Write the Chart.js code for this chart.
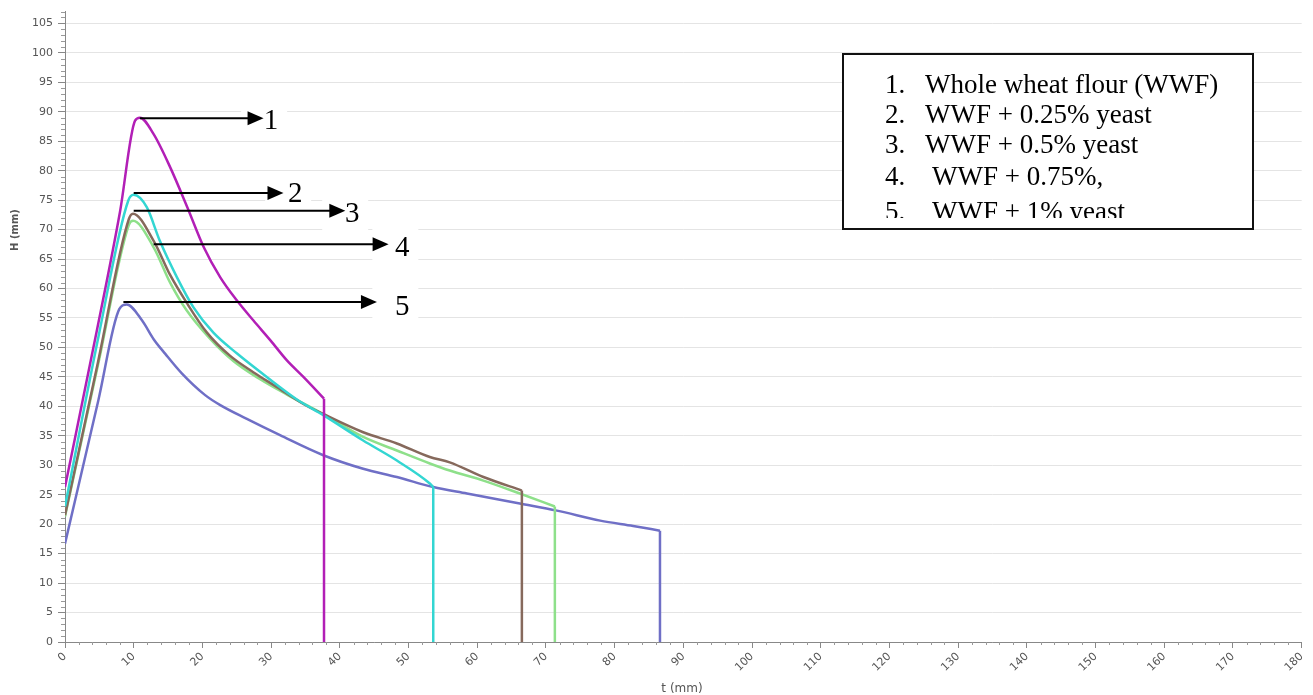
<!DOCTYPE html>
<html>
<head>
<meta charset="utf-8">
<script src="https://cdn.jsdelivr.net/npm/chart.js@4.4.1/dist/chart.umd.min.js"></script>
<style>
  html, body { margin: 0; padding: 0; background: #fff; }
  #wrap { width: 1313px; height: 695px; }
</style>
</head>
<body>
<div id="wrap"><canvas id="myChart" width="1313" height="695"></canvas></div>
<script>
// curve data: t (mm) vs H (mm); last point is the drop to 0
const t1 = [0, 4.4, 8, 10.2, 10.9, 12.9, 15.3, 17.8, 20.2, 22.6, 25, 27.4, 29.9, 32.3, 34.7, 37.7, 37.7];
const h1 = [26.3, 51.5, 73, 88.5, 89, 86.2, 80.6, 73.8, 67, 61.9, 58, 54.6, 51.2, 47.8, 45, 41.3, 0];

const t2 = [0, 4.9, 9.2, 10.0, 11.9, 13.8, 16.3, 18.7, 21.6, 25, 28.9, 33.7, 37.6, 43.4, 48.3, 53.1, 53.6, 53.6];
const h2 = [23, 52, 74.9, 75.9, 73.8, 68.1, 61.9, 56.8, 52.5, 49.0, 45.4, 41.2, 38.5, 34.2, 30.8, 26.9, 26.3, 0];

const t3 = [0, 4.8, 9.3, 9.9, 12.9, 15.3, 17.7, 20.6, 24, 27.4, 30.8, 34.7, 37.6, 43.4, 48.3, 53.1, 56, 60.9, 66.5, 66.5];
const h3 = [21.5, 47.5, 71.8, 72.7, 68.1, 62.3, 57.6, 52.6, 48.6, 45.8, 43.3, 40.4, 38.7, 35.6, 33.7, 31.4, 30.5, 28, 25.7, 0];

const t4 = [0, 4.8, 9.3, 9.9, 12.9, 15.3, 17.7, 21.1, 24.5, 28.4, 32.3, 37.1, 43.4, 48.3, 53.1, 56, 60.9, 66.2, 71.3, 71.3];
const h4 = [21.3, 47, 70.8, 71.5, 67, 61.0, 56.3, 51.5, 47.7, 44.6, 42.0, 39.0, 34.8, 32.5, 30.3, 29.1, 27.4, 25.2, 23, 0];

const t5 = [0, 4.85, 7.9, 9.0, 11.2, 12.9, 14.6, 17, 20.4, 22.6, 26.4, 31.3, 37.6, 43.4, 48.3, 53.6, 58.5, 66.2, 71.6, 77.9, 82.7, 86.6, 86.6];
const h5 = [16.7, 41, 56.5, 57.3, 54.6, 51.4, 48.9, 45.6, 41.9, 40.2, 37.9, 35.1, 31.7, 29.4, 28, 26.3, 25.2, 23.5, 22.3, 20.6, 19.7, 18.9, 0];

const seriesColors = ['#b21fb6', '#33d6d2', '#86695c', '#8ee08a', '#6f6fc6'];

const yTicks = [0, 5, 10, 15, 20, 25, 30, 35, 40, 45, 50, 55, 60, 65, 70, 75, 80, 85, 90, 95, 100, 105];

// arrows pointing at each curve peak, with their numbers
const arrowStartT = [10.9, 10.0, 10.0, 12.9, 8.5];
const arrowTipT = [28.9, 31.8, 40.8, 47.1, 45.4];
const arrowH = [88.9, 76.2, 73.2, 67.5, 57.7];
const arrowLabels = ['1', '2', '3', '4', '5'];
const labelT = [30.0, 33.5, 41.8, 49.1, 49.1];
const labelH = [88.5, 76.2, 72.7, 66.9, 56.9];

const legendNumbers = ['1.', '2.', '3.', '4.', '5.'];
const legendTexts = ['Whole wheat flour (WWF)', 'WWF + 0.25% yeast', 'WWF + 0.5% yeast', 'WWF + 0.75%,', 'WWF + 1% yeast'];

const xTitle = 't (mm)';
const yTitle = 'H (mm)';

function pairs(ts, hs) {
  return ts.map((t, i) => ({ x: t, y: hs[i] }));
}

const allT = [t1, t2, t3, t4, t5];
const allH = [h1, h2, h3, h4, h5];

const datasets = [];
allT.forEach((ts, i) => {
  const hs = allH[i];
  // smooth curve part
  datasets.push({
    label: legendTexts[i],
    data: pairs(ts.slice(0, -1), hs.slice(0, -1)),
    borderColor: seriesColors[i],
    borderWidth: 2.5,
    pointRadius: 0,
    cubicInterpolationMode: 'monotone',
    fill: false
  });
  // straight drop at the end
  datasets.push({
    label: legendTexts[i] + ' end',
    data: pairs(ts.slice(-2), hs.slice(-2)),
    borderColor: seriesColors[i],
    borderWidth: 2.5,
    pointRadius: 0,
    tension: 0,
    fill: false
  });
});

const decorations = {
  id: 'decorations',
  beforeDatasetsDraw(chart) {
    const ctx = chart.ctx;
    const xs = chart.scales.x, ys = chart.scales.y;
    // white patches behind the pasted numbers
    ctx.save();
    ctx.fillStyle = '#ffffff';
    labelT.forEach((t, i) => {
      const px = xs.getPixelForValue(t), py = ys.getPixelForValue(labelH[i]);
      ctx.fillRect(px - 30, py - 20, 46, 40);
    });
    ctx.restore();
  },
  afterDatasetsDraw(chart) {
    const ctx = chart.ctx;
    const xs = chart.scales.x, ys = chart.scales.y;
    const area = chart.chartArea;
    ctx.save();
    // minor ticks
    ctx.strokeStyle = '#999';
    ctx.lineWidth = 1;
    ctx.beginPath();
    for (let v = 1; v <= 107; v++) {
      if (v % 5 === 0) continue;
      const py = Math.round(ys.getPixelForValue(v)) + 0.5;
      ctx.moveTo(area.left - 4, py);
      ctx.lineTo(area.left, py);
    }
    for (let v = 2; v < 180; v += 2) {
      if (v % 10 === 0) continue;
      const px = Math.round(xs.getPixelForValue(v)) + 0.5;
      ctx.moveTo(px, area.bottom);
      ctx.lineTo(px, area.bottom + 3);
    }
    ctx.stroke();

    // arrows
    ctx.strokeStyle = '#000';
    ctx.fillStyle = '#000';
    ctx.lineWidth = 2;
    arrowStartT.forEach((t, i) => {
      const x0 = xs.getPixelForValue(t);
      const x1 = xs.getPixelForValue(arrowTipT[i]);
      const y = ys.getPixelForValue(arrowH[i]);
      ctx.beginPath();
      ctx.moveTo(x0, y);
      ctx.lineTo(x1 - 14, y);
      ctx.stroke();
      ctx.beginPath();
      ctx.moveTo(x1, y);
      ctx.lineTo(x1 - 16, y - 7);
      ctx.lineTo(x1 - 16, y + 7);
      ctx.closePath();
      ctx.fill();
    });
    ctx.font = '29px "Liberation Serif"';
    ctx.textAlign = 'center';
    ctx.textBaseline = 'middle';
    arrowLabels.forEach((s, i) => {
      ctx.fillText(s, xs.getPixelForValue(labelT[i]), ys.getPixelForValue(labelH[i]) + 1);
    });
    ctx.restore();
  },
  afterDraw(chart) {
    const ctx = chart.ctx;
    ctx.save();
    // axis titles
    ctx.fillStyle = '#555';
    ctx.font = 'bold 10px "DejaVu Sans"';
    ctx.textAlign = 'center';
    ctx.textBaseline = 'middle';
    ctx.translate(15, 230);
    ctx.rotate(-Math.PI / 2);
    ctx.fillText(yTitle, 0, 0);
    ctx.restore();
    ctx.save();
    ctx.fillStyle = '#555';
    ctx.font = '12px "DejaVu Sans"';
    ctx.textAlign = 'center';
    ctx.textBaseline = 'middle';
    ctx.fillText(xTitle, 682, 689);
    ctx.restore();

    // legend box
    ctx.save();
    ctx.fillStyle = '#fff';
    ctx.fillRect(843, 54, 410, 175);
    ctx.strokeStyle = '#111';
    ctx.lineWidth = 2;
    ctx.strokeRect(843, 54, 410, 175);
    ctx.beginPath();
    ctx.rect(845, 56, 406, 162);
    ctx.clip();
    ctx.fillStyle = '#000';
    ctx.font = '27px "Liberation Serif"';
    ctx.textBaseline = 'alphabetic';
    ctx.textAlign = 'left';
    const baselines = [93, 123, 153, 185, 220];
    const textX = [925, 925, 925, 932, 932];
    legendNumbers.forEach((n, i) => {
      ctx.fillText(n, 885, baselines[i]);
      ctx.fillText(legendTexts[i], textX[i], baselines[i]);
    });
    ctx.restore();
  }
};

new Chart(document.getElementById('myChart').getContext('2d'), {
  type: 'line',
  data: { datasets: datasets },
  options: {
    responsive: false,
    animation: false,
    devicePixelRatio: 1,
    layout: { padding: { top: 11, right: 11, left: 0, bottom: 0 } },
    plugins: { legend: { display: false }, tooltip: { enabled: false } },
    scales: {
      x: {
        type: 'linear',
        min: 0,
        max: 180,
        afterFit: s => { s.height = 53; },
        ticks: {
          stepSize: 10,
          autoSkip: false,
          maxRotation: 45,
          minRotation: 45,
          padding: 2,
          color: '#555',
          font: { family: 'DejaVu Sans', size: 11 }
        },
        grid: { drawOnChartArea: false, tickLength: 6, tickColor: '#888' },
        border: { color: '#888', width: 1 }
      },
      y: {
        min: 0,
        max: 107,
        afterFit: s => { s.width = 65; },
        afterBuildTicks: s => { s.ticks = yTicks.map(v => ({ value: v })); },
        ticks: {
          stepSize: 5,
          padding: 5,
          color: '#555',
          font: { family: 'DejaVu Sans', size: 11 }
        },
        grid: { color: '#e4e4e4', tickLength: 7, tickColor: '#888' },
        border: { color: '#888', width: 1 }
      }
    }
  },
  plugins: [decorations]
});
</script>
</body>
</html>
